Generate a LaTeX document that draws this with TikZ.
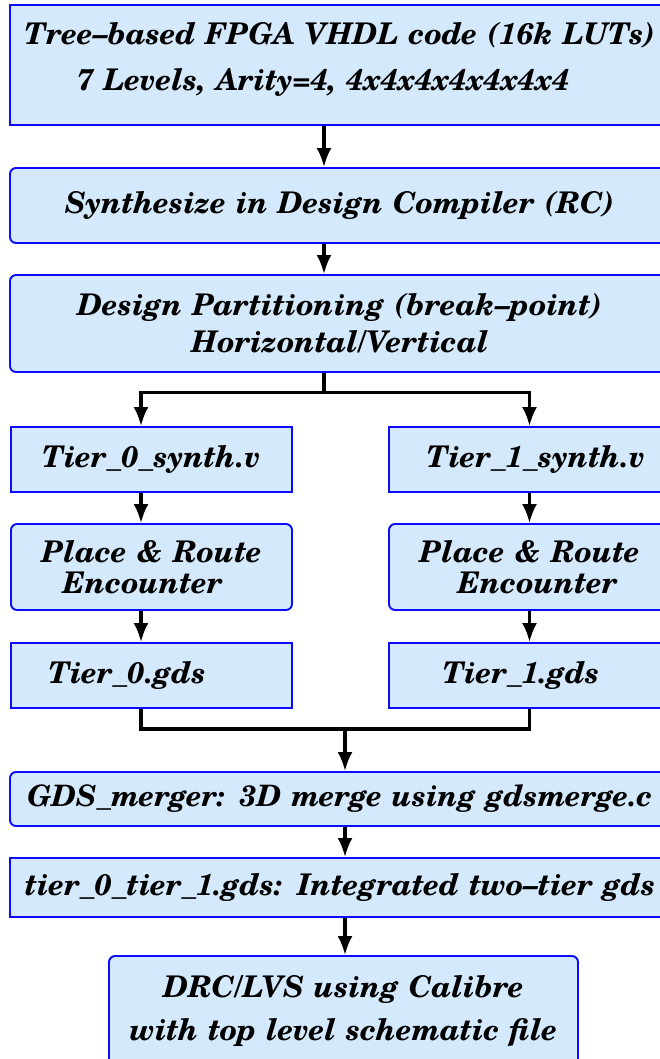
\documentclass[tikz,border=0pt]{standalone}
\usepackage{fontspec}
\usetikzlibrary{arrows.meta}

\newfontfamily\schola{texgyreschola-bolditalic.otf}
\newcommand{\fs}[2]{\schola\fontsize{#1}{#2}\selectfont}

\definecolor{boxfill}{RGB}{212,234,252}
\definecolor{boxline}{RGB}{12,12,250}

\begin{document}
\begin{tikzpicture}
	\tikzset{box/.style = {shape=rectangle, draw=boxline, fill=boxfill,
			line width=1.1pt, inner xsep=0.1cm, inner ysep=0pt, align=center}}
	\tikzset{boxr/.style = {box, rounded corners=0.12cm}}
	\tikzset{edge/.style = {-{Latex[length=0.38cm,width=0.3cm]}, line width=1.8pt}}
	\tikzset{wire/.style = {line width=1.8pt}}
	
	\useasboundingbox (0,0) rectangle (13.2,-21.18);
	\clip (0,0) rectangle (13.2,-21.18);
	
	% vertices
	\node[box, text width=13cm, minimum height=2.4cm, text depth=1.25cm, font=\fs{17}{26}] (vhdl) at (6.8,-1.3)
		{Tree–based FPGA VHDL code (16k LUTs)\\\hspace*{-0.68cm}7 Levels, Arity=4, 4x4x4x4x4x4x4};
	\node[boxr, text width=13cm, minimum height=1.5cm, font=\fs{17}{20}] (synth) at (6.8,-4.11)
		{Synthesize in Design Compiler (RC)};
	\node[boxr, text width=13cm, minimum height=1.94cm, font=\fs{17}{21}] (part) at (6.8,-6.47)
		{Design Partitioning (break–point)\\Horizontal/Vertical};
	
	\node[box, text width=5.42cm, minimum height=1.3cm, font=\fs{17}{20}] (t0v) at (3.03,-9.19)
		{Tier\_0\_synth.v};
	\node[box, text width=5.42cm, minimum height=1.3cm, font=\fs{17}{20}] (t1v) at (10.59,-9.19)
		{\hspace*{0.26cm}Tier\_1\_synth.v};
	\node[boxr, text width=5.42cm, minimum height=1.72cm, font=\fs{17}{17.6}] (pr0) at (3.03,-11.34)
		{Place \& Route\\\hspace*{-0.36cm}Encounter};
	\node[boxr, text width=5.42cm, minimum height=1.72cm, font=\fs{17}{17.6}] (pr1) at (10.59,-11.34)
		{Place \& Route\\\hspace*{0.32cm}Encounter};
	\node[box, text width=5.42cm, minimum height=1.3cm, font=\fs{17}{20}] (gds0) at (3.03,-13.51)
		{\hspace*{-0.98cm}Tier\_0.gds};
	\node[box, text width=5.42cm, minimum height=1.3cm, font=\fs{17}{20}] (gds1) at (10.59,-13.51)
		{\hspace*{-0.34cm}Tier\_1.gds};
	
	\node[boxr, text width=13cm, minimum height=1.08cm, font=\fs{16.8}{20}] (merge) at (6.8,-15.98)
		{GDS\_merger: 3D merge using gdsmerge.c};
	\node[box, text width=13cm, minimum height=1.18cm, font=\fs{17}{20}] (integ) at (6.8,-17.75)
		{tier\_0\_tier\_1.gds: Integrated two–tier gds};
	\node[boxr, text width=9.18cm, minimum height=2.2cm, font=\fs{17}{24}] (drc) at (6.87,-20.22)
		{DRC/LVS using Calibre\\with top level schematic file};
	
	\coordinate (spine) at (6.48,0);
	\coordinate (trunk) at (6.9,0);
	\coordinate (lcol) at (2.82,0);
	\coordinate (rcol) at (10.59,0);
	\coordinate (split) at (6.48,-7.85);
	\coordinate (join) at (6.9,-14.58);
	
	%edges
	\draw[edge] (vhdl.south -| spine) -- (synth.north -| spine);
	\draw[edge] (synth.south -| spine) -- (part.north -| spine);
	\draw[wire] (part.south -| spine) -- (split);
	\draw[edge] (split) -| (t0v.north -| lcol);
	\draw[edge] (split) -| (t1v.north -| rcol);
	\draw[edge] (t0v.south -| lcol) -- (pr0.north -| lcol);
	\draw[edge] (t1v.south -| rcol) -- (pr1.north -| rcol);
	\draw[edge] (pr0.south -| lcol) -- (gds0.north -| lcol);
	\draw[edge] (pr1.south -| rcol) -- (gds1.north -| rcol);
	\draw[wire] (gds0.south -| lcol) |- (join);
	\draw[wire] (gds1.south -| rcol) |- (join);
	\draw[edge] (join) -- (merge.north -| trunk);
	\draw[edge] (merge.south -| trunk) -- (integ.north -| trunk);
	\draw[edge] (integ.south -| trunk) -- (drc.north -| trunk);
	
\end{tikzpicture}
\end{document}
